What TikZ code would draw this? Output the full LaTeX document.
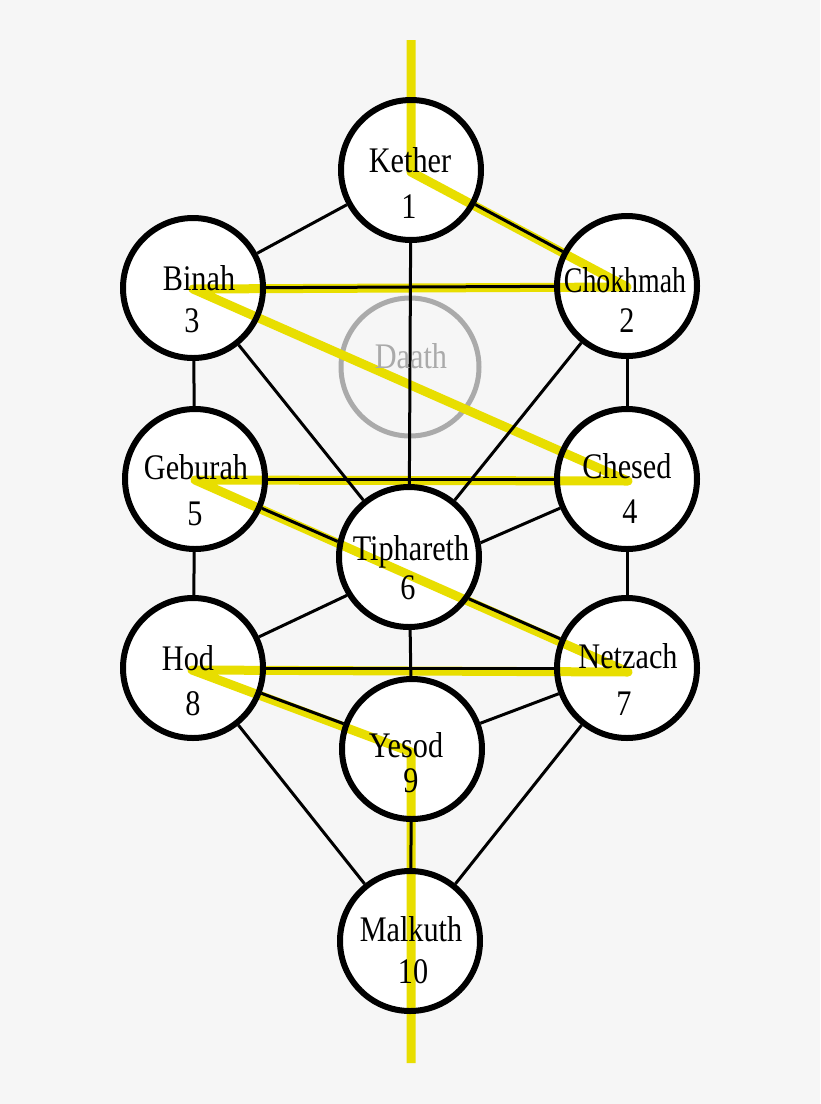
\documentclass[tikz,border=0pt]{standalone}
\usepackage{fontspec}
\usetikzlibrary{calc}
\newfontfamily\sefont[FakeStretch=0.84]{Liberation Serif}
\definecolor{bg}{HTML}{F6F6F6}
\definecolor{flash}{RGB}{232,222,0}
\definecolor{daathgray}{HTML}{AAAAAA}
\begin{document}
\begin{tikzpicture}[x=1pt,y=-1pt,
  base/.style={circle, fill=white, minimum size=146pt, inner sep=0pt, outer sep=0pt},
  ring/.style={circle, draw=black, line width=6pt, minimum size=140pt, inner sep=0pt, outer sep=0pt},
  conn/.style={draw=black, line width=3pt},
  flashline/.style={draw=flash, line width=9pt, line join=round},
  lbl/.style={anchor=base, inner sep=0pt, font=\sefont\fontsize{36}{36}\selectfont},
]
\fill[bg] (0,0) rectangle (820,1104);
\useasboundingbox (0,0) rectangle (820,1104);

% white fills
\node[base] (k)  at (411,170) {};
\node[base] (c)  at (627,286) {};
\node[base] (b)  at (193,288) {};
\node[base] (ch) at (627,479) {};
\node[base] (g)  at (195,479) {};
\node[base] (t)  at (409,557) {};
\node[base] (n)  at (627,668) {};
\node[base] (h)  at (193,668) {};
\node[base] (y)  at (412,749) {};
\node[base] (m)  at (410,941) {};

% Daath
\node[circle, draw=daathgray, line width=5pt, minimum size=138pt, inner sep=0pt] (d) at (410,367) {};

% lightning flash
\coordinate (f0) at (411,40);
\coordinate (f1) at (411,172);
\coordinate (f2) at (627,287);
\coordinate (f3) at (193,289);
\coordinate (f4) at (628,481);
\coordinate (f5) at (195,480);
\coordinate (f6) at (628,672);
\coordinate (f7) at (192,670);
\coordinate (f8) at (411,752);
\coordinate (f9) at (411,1063);
\draw[flashline] (f0) -- (f1) -- (f2) -- (f3) -- (f4) -- (f5) -- (f6) -- (f7) -- (f8) -- (f9);

% points where some paths meet the Tiphareth circle
\coordinate (tg)  at ($(g.center)!0.3303!(n.center)$);
\coordinate (tn)  at ($(g.center)!0.634!(n.center)$);
\coordinate (tch) at ($(ch.center)!0.3373!(h.center)$);
\coordinate (th)  at (347,595.3);

% paths
\draw[conn] (k) -- (b);
\draw[conn] (k) -- (c);
\draw[conn] (k) -- (t);
\draw[conn] (b) -- (c);
\draw[conn] (b) -- (g);
\draw[conn] (b) -- (t);
\draw[conn] (c) -- (ch);
\draw[conn] (c) -- (t);
\draw[conn] (g) -- (ch);
\draw[conn] (g) -- (tg);
\draw[conn] (g) -- (h);
\draw[conn] (ch) -- (tch);
\draw[conn] (ch) -- (n);
\draw[conn] (tn) -- (n);
\draw[conn] (h) -- (th);
\draw[conn] (t) -- (y);
\draw[conn] (h) -- (n);
\draw[conn] (h) -- (y);
\draw[conn] (h) -- (m);
\draw[conn] (n) -- (y);
\draw[conn] (n) -- (m);
\draw[conn] (y) -- (m);

% rings
\node[ring] (kr)  at (k) {};
\node[ring] (cr)  at (c) {};
\node[ring] (br)  at (b) {};
\node[ring] (chr) at (ch) {};
\node[ring] (gr)  at (g) {};
\node[ring] (tr)  at (t) {};
\node[ring] (nr)  at (n) {};
\node[ring] (hr)  at (h) {};
\node[ring] (yr)  at (y) {};
\node[ring] (mr)  at (m) {};

% labels
\node[lbl] (kt)  at (410,172) {Kether};
\node[lbl] (kn)  at (409,218) {1};
\node[lbl] (ct)  at (625,292) {\scalebox{0.92}[1]{Chokhmah}};
\node[lbl] (cn)  at (627,332) {2};
\node[lbl] (bt)  at (199,290) {Binah};
\node[lbl] (bn)  at (192,332) {3};
\node[lbl, text=daathgray] (dt) at (411,368) {Daath};
\node[lbl] (cht) at (627,478) {Chesed};
\node[lbl] (chn) at (630,523) {4};
\node[lbl] (gt)  at (196,479) {Geburah};
\node[lbl] (gn)  at (195,525) {5};
\node[lbl] (tt)  at (411,560) {Tiphareth};
\node[lbl] (tn6) at (408,599) {6};
\node[lbl] (nt)  at (628,668) {Netzach};
\node[lbl] (nn)  at (624,715) {7};
\node[lbl] (ht)  at (188,670) {Hod};
\node[lbl] (hn)  at (193,715) {8};
\node[lbl] (yt)  at (406,757) {Yesod};
\node[lbl] (yn)  at (411,792) {9};
\node[lbl] (mt)  at (411,941) {Malkuth};
\node[lbl] (mn)  at (413,983) {10};
\end{tikzpicture}
\end{document}
